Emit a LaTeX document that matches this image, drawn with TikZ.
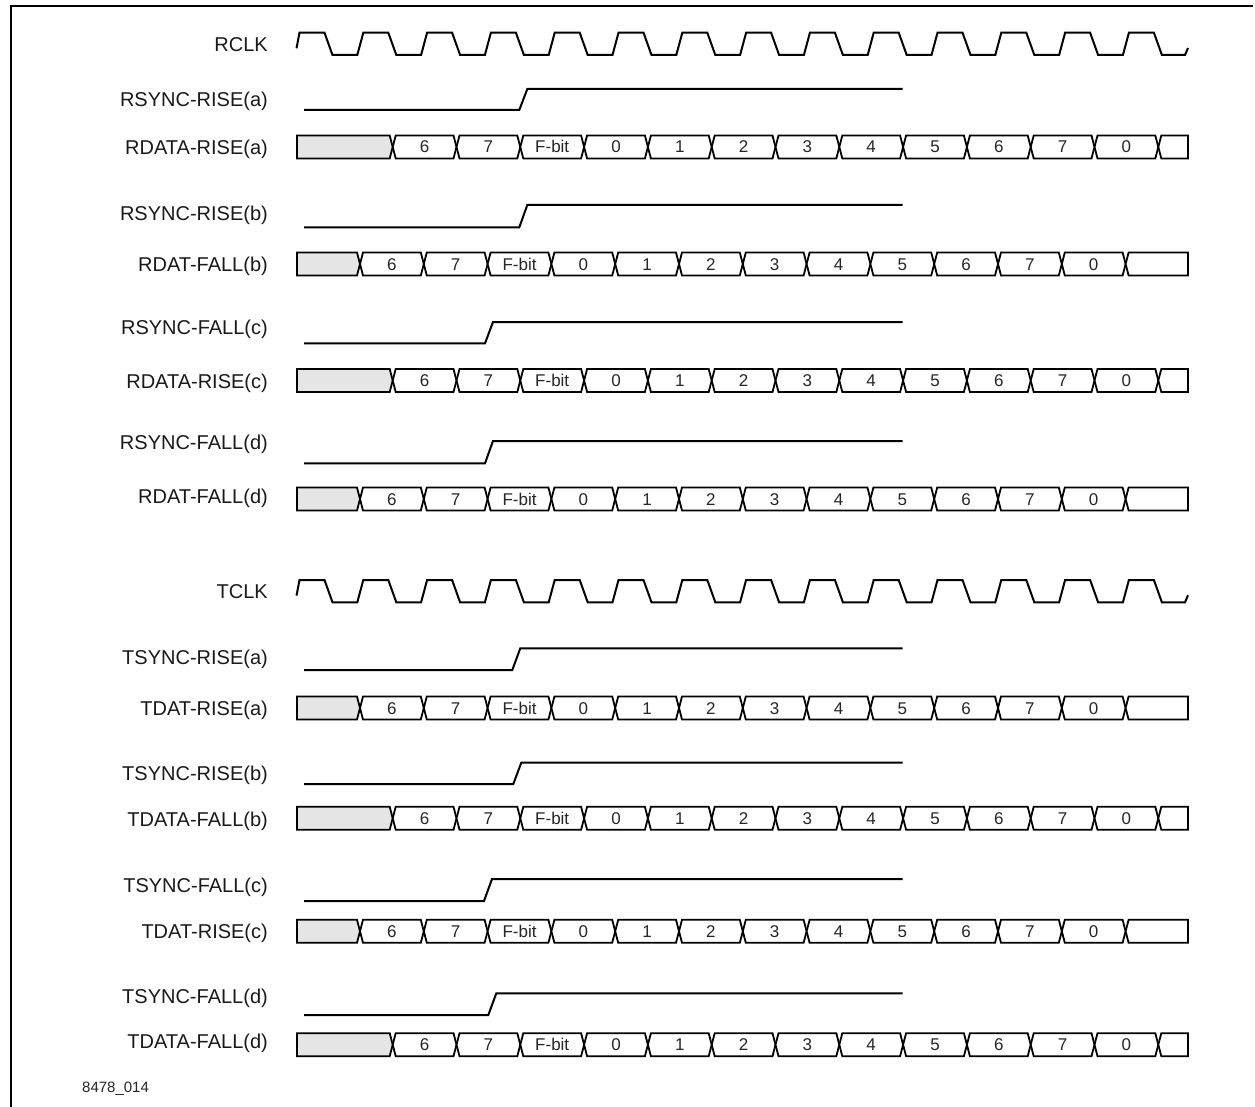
\documentclass[tikz,border=0pt]{standalone}
\usepackage{fontspec}
\setmainfont{Liberation Sans}
\begin{document}
\begin{tikzpicture}[x=1pt,y=-1pt]
\tikzset{
  wave/.style={line width=2pt, line join=miter},
  sig/.style={font=\fontsize{20}{24}\selectfont, anchor=base east, inner sep=0pt, text=black!90},
  cell/.style={font=\fontsize{17}{20}\selectfont, text=black!85, anchor=base, inner sep=0pt},
  bus/.style={line width=1.8pt, fill=white},
  gbus/.style={line width=1.8pt, fill=black!10},
  frame/.style={line width=2pt},
  tag/.style={font=\fontsize{15}{18}\selectfont, anchor=base west, inner sep=0pt, text=black!85}
}
\useasboundingbox (0,0) rectangle (1255,1107);
\newcommand{\clkwave}[2]{%
  \draw[wave] (296.5,{#2-0.3*(#2-#1)}) -- (299.5,#1)
  \foreach \k in {0,...,12}{ -- ({324.5+63.8*\k},#1) -- ({332.5+63.8*\k},#2) -- ({357.3+63.8*\k},#2) -- ({363.3+63.8*\k},#1) }
  -- (1153.9,#1) -- (1161.9,#2) -- (1185,#2) -- (1188,{#2-7});
}
\newcommand{\syncwave}[3]{%
  \draw[wave] (304,#1) -- (#3,#1) -- ({#3+8},#2) -- (902.7,#2);
}
\newcommand{\databus}[3]{%
  \filldraw[gbus] (297,{#1-11.5}) -- ({#2-3},{#1-11.5}) -- (#2,#1) -- ({#2-3},{#1+11.5}) -- (297,{#1+11.5}) -- cycle;
  \foreach \i/\t in {0/6,1/7,2/F-bit,3/0,4/1,5/2,6/3,7/4,8/5,9/6,10/7,11/0}{
    \pgfmathsetmacro\xa{#2+63.8*\i}
    \pgfmathsetmacro\xb{\xa+63.8}
    \filldraw[bus] (\xa,#1) -- ({\xa+3},{#1-11.5}) -- ({\xb-3},{#1-11.5}) -- (\xb,#1) -- ({\xb-3},{#1+11.5}) -- ({\xa+3},{#1+11.5}) -- cycle;
    \node[cell] (#3-\i) at ({(\xa+\xb)/2},{#1+6}) {\t};
  }
  \pgfmathsetmacro\xa{#2+63.8*12}
  \filldraw[bus] (\xa,#1) -- ({\xa+3},{#1-11.5}) -- (1188,{#1-11.5}) -- (1188,{#1+11.5}) -- ({\xa+3},{#1+11.5}) -- cycle;
}
% frame
\draw[frame] (11,1107) -- (11,6) -- (1253,6);
% labels
\node[sig] (lrclk) at (268,{44+7.2}) {RCLK};
\node[sig] (lrsa) at (268,{99+7.2}) {RSYNC-RISE(a)};
\node[sig] (lrda) at (268,{147+7.2}) {RDATA-RISE(a)};
\node[sig] (lrsb) at (268,{213+7.2}) {RSYNC-RISE(b)};
\node[sig] (lrdb) at (268,{264+7.2}) {RDAT-FALL(b)};
\node[sig] (lrsc) at (268,{327+7.2}) {RSYNC-FALL(c)};
\node[sig] (lrdc) at (268,{381+7.2}) {RDATA-RISE(c)};
\node[sig] (lrsd) at (268,{442+7.2}) {RSYNC-FALL(d)};
\node[sig] (lrdd) at (268,{496+7.2}) {RDAT-FALL(d)};
\node[sig] (ltclk) at (268,{591+7.2}) {TCLK};
\node[sig] (ltsa) at (268,{657+7.2}) {TSYNC-RISE(a)};
\node[sig] (ltda) at (268,{708+7.2}) {TDAT-RISE(a)};
\node[sig] (ltsb) at (268,{773+7.2}) {TSYNC-RISE(b)};
\node[sig] (ltdb) at (268,{819+7.2}) {TDATA-FALL(b)};
\node[sig] (ltsc) at (268,{885+7.2}) {TSYNC-FALL(c)};
\node[sig] (ltdc) at (268,{931+7.2}) {TDAT-RISE(c)};
\node[sig] (ltsd) at (268,{996+7.2}) {TSYNC-FALL(d)};
\node[sig] (ltdd) at (268,{1041+7.2}) {TDATA-FALL(d)};
\node[tag] (fig) at (82,{1087+5.4}) {8478\_014};
% waves
\clkwave{32.7}{55}
\syncwave{110}{89}{519.3}
\databus{147}{392.7}{ra}
\syncwave{227.3}{205}{519.3}
\databus{264}{360}{rb}
\syncwave{343.3}{322}{485}
\databus{380.5}{392.7}{rc}
\syncwave{463.3}{441}{485}
\databus{499}{360}{rd}
\clkwave{580}{602.3}
\syncwave{670}{648.3}{512.3}
\databus{708}{360}{ta}
\syncwave{784}{762.7}{513.3}
\databus{818.3}{392.7}{tb}
\syncwave{901}{879}{484}
\databus{931.3}{360}{tc}
\syncwave{1015}{993.3}{488.3}
\databus{1044.7}{392.7}{td}
\end{tikzpicture}
\end{document}
